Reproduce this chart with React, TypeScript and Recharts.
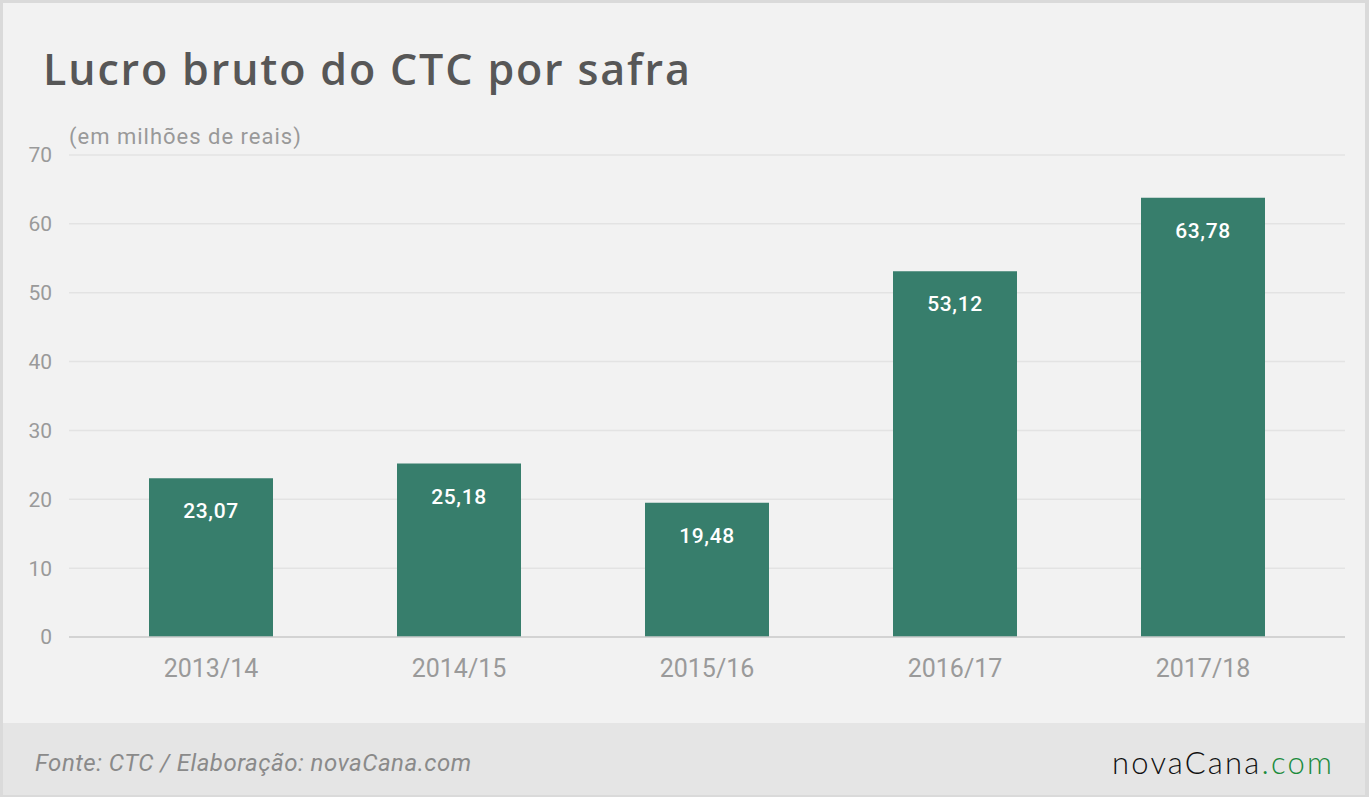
import React from "react";
import { Bar, BarChart, CartesianGrid, LabelList, XAxis, YAxis } from "recharts";

const safras = ["2013/14", "2014/15", "2015/16", "2016/17", "2017/18"];
const lucro = [23.07, 25.18, 19.48, 53.12, 63.78];
const yTicks = [0, 10, 20, 30, 40, 50, 60, 70];

const data = safras.map((safra, i) => ({ safra, lucro: lucro[i] }));

const fmt = (v: number) => v.toFixed(2).replace(".", ",");

export default function App() {
  return (
    <div
      style={{
        position: "fixed",
        left: 0,
        top: 0,
        width: 1369,
        height: 797,
        background: "#dadada",
        fontFamily: "Roboto, sans-serif"
      }}
    >
      <div
        style={{
          position: "absolute",
          left: 3,
          top: 3,
          width: 1362,
          height: 792,
          background: "#f2f2f2",
          overflow: "hidden"
        }}
      >
        <div
          style={{
            position: "absolute",
            left: 40,
            top: 36,
            fontSize: 43,
            fontWeight: 600,
            fontFamily: "'Open Sans', sans-serif",
            letterSpacing: 1.85,
            color: "#575757",
            whiteSpace: "nowrap"
          }}
        >
          Lucro bruto do CTC por safra
        </div>
        <div
          style={{
            position: "absolute",
            left: 66,
            top: 121,
            fontSize: 22,
            letterSpacing: 1,
            color: "#999",
            whiteSpace: "nowrap"
          }}
        >
          (em milhões de reais)
        </div>

        <div style={{ position: "absolute", left: -3, top: 137 }}>
          <BarChart
            width={1369}
            height={580}
            data={data}
            margin={{ top: 15, right: 24, left: 9, bottom: 20 }}
            barCategoryGap="25%"
          >
            <CartesianGrid vertical={false} stroke="#e3e3e3" strokeWidth={1.5} />
            <XAxis
              dataKey="safra"
              padding={{ left: 18, right: 18 }}
              tickLine={false}
              tickSize={0}
              tickMargin={22}
              stroke="#cccccc"
              strokeWidth={1.5}
              height={63}
              tick={{ fontSize: 25, fill: "#9a9a9a", fontFamily: "Roboto" }}
            />
            <YAxis
              domain={[0, 70]}
              ticks={yTicks}
              axisLine={false}
              tickLine={false}
              tickSize={0}
              tickMargin={17}
              width={60}
              tick={{ fontSize: 21, fill: "#9a9a9a", fontFamily: "Roboto" }}
            />
            <Bar dataKey="lucro" fill="#377e6c" isAnimationActive={false}>
              <LabelList
                dataKey="lucro"
                position="insideTop"
                offset={25}
                formatter={(v: number) => fmt(v)}
                style={{
                  fill: "#ffffff",
                  fontSize: 21,
                  fontWeight: 500,
                  letterSpacing: 0.6,
                  fontFamily: "Roboto"
                }}
              />
            </Bar>
          </BarChart>
        </div>

        <div
          style={{
            position: "absolute",
            left: 0,
            top: 720,
            width: 1362,
            height: 72,
            background: "#e5e5e5"
          }}
        >
          <div
            style={{
              position: "absolute",
              left: 32,
              top: 26,
              fontSize: 24,
              fontStyle: "italic",
              letterSpacing: 0.5,
              color: "#8a8a8a",
              whiteSpace: "nowrap"
            }}
          >
            Fonte: CTC / Elaboração: novaCana.com
          </div>
          <div
            style={{
              position: "absolute",
              left: 1109,
              top: 20,
              fontSize: 31,
              fontFamily: "Lato, sans-serif",
              fontWeight: 300,
              letterSpacing: 2.2,
              color: "#111",
              whiteSpace: "nowrap"
            }}
          >
            novaCana<span style={{ color: "#1a8b3c" }}>.com</span>
          </div>
        </div>
      </div>
    </div>
  );
}
